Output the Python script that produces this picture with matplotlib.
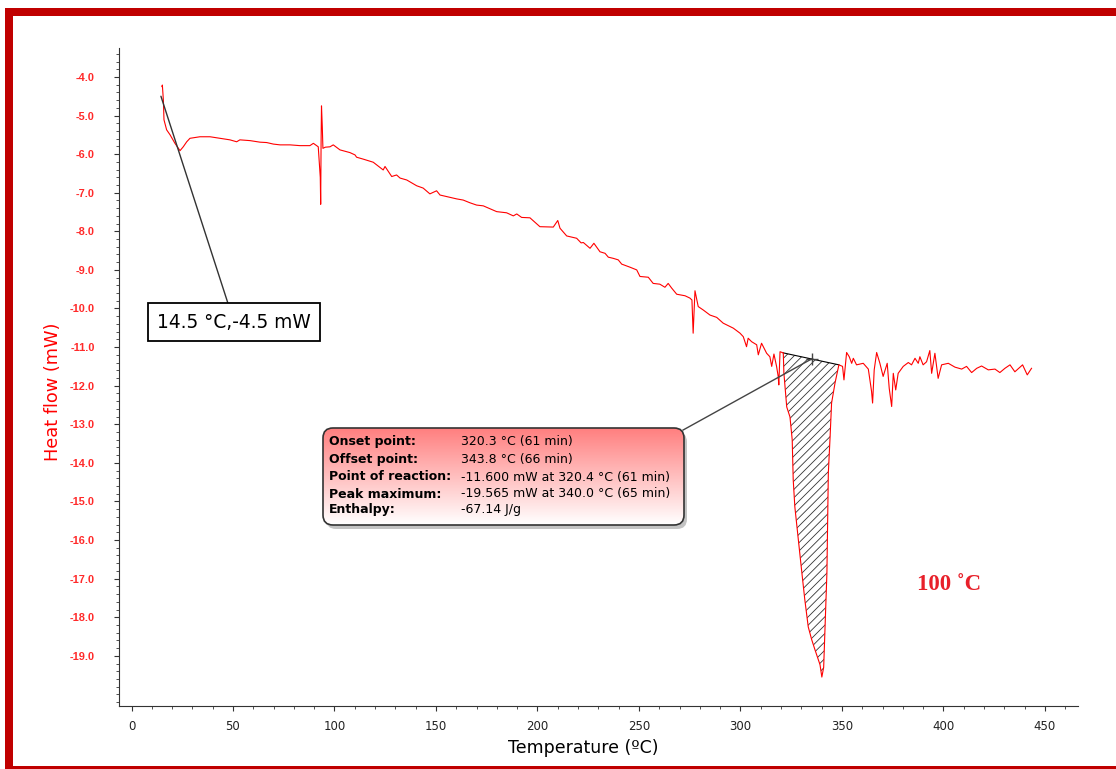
import numpy as np
import matplotlib
matplotlib.use("Agg")
import matplotlib.pyplot as plt
from matplotlib.patches import FancyBboxPatch, Rectangle

# DSC curve (temperature in C, heat flow in mW)
t_start = [15.0, 15.2, 15.7, 16.0, 17.3, 19.0, 21.4, 23.9, 25.5, 27.2, 28.8, 33.7, 38.7, 43.6,
           48.5, 51.8, 53.4, 58.4, 63.3, 66.6, 69.9, 73.2, 78.1, 83.0, 87.9, 89.6, 92.0,
           93.0, 93.2, 93.4, 93.6, 94.0, 94.3, 95.5]
hf_start = [-4.25, -4.21, -4.6, -5.11, -5.37, -5.5, -5.72, -5.91, -5.81, -5.68, -5.59, -5.55,
            -5.55, -5.59, -5.63, -5.68, -5.63, -5.65, -5.69, -5.7, -5.74, -5.76, -5.76, -5.78,
            -5.78, -5.72, -5.81, -6.6, -7.3, -5.7, -4.75, -5.3, -5.85, -5.82]

t_slope = [97.8, 99.4, 102.7, 107.6, 110.1, 110.9, 114.2, 119.1, 120.8, 124.0, 124.9, 128.2,
           130.6, 132.3, 135.6, 140.5, 143.7, 147.0, 150.3, 152.0, 155.3, 160.2, 163.4, 166.7,
           170.0, 173.3, 179.9, 184.8, 188.1, 189.8, 192.2, 196.3, 201.2, 207.8, 210.0, 211.1,
           214.4, 219.3, 221.5, 222.6, 225.9, 227.8, 230.8, 233.3, 234.9, 237.3, 239.8, 241.5,
           245.6, 248.9, 250.5, 254.6, 257.0, 260.3, 262.8, 264.4, 266.1, 268.6, 272.7, 275.1,
           276.1, 276.7, 277.6, 279.2, 281.7, 285.0, 288.3, 291.5, 296.5, 299.8, 301.4, 303.0,
           303.8, 305.5, 308.0, 308.8, 310.4, 312.9, 314.5, 315.4, 316.5, 317.8, 318.6, 318.9,
           319.5]
hf_slope = [-5.81, -5.76, -5.89, -5.96, -6.02, -6.08, -6.13, -6.21, -6.28, -6.41, -6.32, -6.58,
            -6.54, -6.62, -6.67, -6.82, -6.88, -7.03, -6.95, -7.06, -7.1, -7.16, -7.19, -7.26,
            -7.32, -7.34, -7.49, -7.52, -7.6, -7.55, -7.64, -7.65, -7.88, -7.89, -7.72, -7.92,
            -8.12, -8.18, -8.3, -8.29, -8.44, -8.31, -8.53, -8.57, -8.67, -8.7, -8.74, -8.85,
            -8.93, -9.0, -9.17, -9.19, -9.35, -9.37, -9.45, -9.35, -9.47, -9.63, -9.67, -9.73,
            -9.78, -10.64, -9.54, -9.95, -10.04, -10.17, -10.23, -10.38, -10.51, -10.64, -10.73,
            -10.99, -10.77, -10.86, -10.94, -11.2, -10.9, -11.16, -11.25, -11.5, -11.18, -11.5,
            -11.76, -11.98, -11.12]

# endothermic peak, from onset to offset
t_peak = [321.1, 321.4, 322.8, 324.4, 325.5, 326.0, 326.8, 328.5, 330.1, 331.7, 333.4, 335.1,
          336.7, 339.2, 340.1, 341.0, 342.6, 343.3, 344.1, 344.9, 346.6, 348.5]
hf_peak = [-11.15, -11.67, -12.55, -12.81, -13.4, -14.44, -15.14, -15.99, -16.77, -17.54, -18.25,
           -18.58, -18.84, -19.23, -19.55, -19.3, -16.85, -14.26, -13.4, -12.45, -11.93, -11.46]

t_end = [350.3, 351.0, 352.3, 353.6, 354.8, 355.6, 357.2, 360.5, 363.0, 364.6, 365.1, 365.9,
         367.1, 368.7, 370.3, 372.3, 373.3, 374.5, 375.3, 376.5, 377.7, 380.2, 382.7, 384.3,
         386.0, 387.6, 388.4, 390.0, 391.7, 393.3, 394.2, 395.8, 397.4, 399.1, 402.4, 405.7,
         409.0, 411.4, 413.9, 416.4, 418.8, 422.1, 425.4, 427.8, 430.3, 432.8, 435.2, 439.0,
         441.3, 443.4]
hf_end = [-11.5, -11.85, -11.14, -11.25, -11.42, -11.29, -11.46, -11.42, -11.57, -12.15, -12.45,
          -11.59, -11.14, -11.42, -11.76, -11.42, -12.07, -12.54, -11.68, -12.11, -11.68, -11.5,
          -11.4, -11.46, -11.29, -11.42, -11.25, -11.46, -11.38, -11.09, -11.68, -11.16, -11.81,
          -11.46, -11.42, -11.52, -11.57, -11.5, -11.66, -11.55, -11.49, -11.59, -11.57, -11.66,
          -11.55, -11.46, -11.64, -11.46, -11.72, -11.55]

temp = t_start + t_slope + t_peak + t_end
heat = hf_start + hf_slope + hf_peak + hf_end

x_ticks = list(range(0, 451, 50))
y_ticks = [-4.0 - i for i in range(16)]

mark_t, mark_hf = 14.5, -4.5
box_rows = [("Onset point:", "320.3 \u00b0C (61 min)"),
            ("Offset point:", "343.8 \u00b0C (66 min)"),
            ("Point of reaction:", "-11.600 mW at 320.4 \u00b0C (61 min)"),
            ("Peak maximum:", "-19.565 mW at 340.0 \u00b0C (65 min)"),
            ("Enthalpy:", "-67.14 J/g")]

plt.rcParams["hatch.linewidth"] = 0.6

W, H = 1116, 769
fig = plt.figure(figsize=(W / 100, H / 100), dpi=100)
ax = fig.add_axes([119 / W, 1 - 706 / H, (1078 - 119) / W, (706 - 48) / H])

ax.plot(temp, heat, color="#ff0000", lw=0.8, zorder=3)
ax.fill(t_peak, hf_peak, fill=False, hatch="////", edgecolor="#333333", lw=0, zorder=2)
ax.plot([t_peak[0], t_peak[-1]], [hf_peak[0], hf_peak[-1]], color="black", lw=0.8, zorder=2)

ax.set_xlim(-6.16, 466.3)
ax.set_ylim(-20.3, -3.25)
ax.set_xticks(x_ticks)
ax.set_xticks(range(0, 461, 10), minor=True)
ax.set_yticks(y_ticks)
ax.set_yticks(np.arange(-20.2, -3.3, 0.2), minor=True)
ax.set_yticklabels(["%.1f" % v for v in y_ticks])
for s in ["top", "right"]:
    ax.spines[s].set_visible(False)
for s in ["left", "bottom"]:
    ax.spines[s].set_color("#333333")
ax.tick_params(axis="both", which="major", length=3.5, color="#333333")
ax.tick_params(axis="both", which="minor", length=2, color="#333333")
ax.tick_params(axis="y", labelcolor="#ff2a2a", pad=14)
ax.tick_params(axis="x", labelcolor="#222222", labelsize=8.5, pad=6.5)
for lab in ax.get_yticklabels():
    lab.set_fontweight("bold")
    lab.set_family("Liberation Sans")
    lab.set_fontsize(7.9)
ax.set_xlabel("Temperature (\u00baC)", fontsize=12.5)
ax.xaxis.set_label_coords(0.484, -0.05)
ax.set_ylabel("Heat flow (mW)", fontsize=12.8, color="#ff0000")
ax.yaxis.set_label_coords(-0.0594, 0.477)

# first annotation
ax.annotate("14.5 \u00b0C,-4.5 mW", xy=(mark_t, mark_hf), xytext=(50.5, -10.35),
            fontsize=13.4, ha="center", va="center",
            bbox=dict(boxstyle="square,pad=0.5", fc="white", ec="black", lw=1.3),
            arrowprops=dict(arrowstyle="-", color="#333333", lw=1.0, shrinkA=0, shrinkB=0),
            zorder=5)

# leader of the peak result box
ax.plot([271.7, 335.3], [-13.15, -11.3], color="#444444", lw=1.0, zorder=4)
ax.plot([335.3], [-11.3], marker="+", color="#444444", ms=8, zorder=4)

ax.text(403, -17.16, "100 \u02daC", fontsize=16.5, fontweight="bold", color="#e8202a",
        family="Liberation Serif", ha="center", va="center")

# overlay in pixel coordinates for frame and result box
ov = fig.add_axes([0, 0, 1, 1], zorder=10)
ov.axis("off")
ov.patch.set_alpha(0)

frame = "#c00000"
ov.add_patch(Rectangle((5, 8), W, 8, color=frame, lw=0))
ov.add_patch(Rectangle((5, 8), 8, H, color=frame, lw=0))
ov.add_patch(Rectangle((5, 766), W, 4, color=frame, lw=0))

bx0, by0, bw, bh = 323, 428, 361, 97
shadow = FancyBboxPatch((bx0 + 3, by0 + 4), bw, bh, boxstyle="round,pad=0,rounding_size=10",
                        fc="#888888", ec="none", alpha=0.5)
ov.add_patch(shadow)
box = FancyBboxPatch((bx0, by0), bw, bh, boxstyle="round,pad=0,rounding_size=10",
                     fc="none", ec="#333333", lw=1.2, zorder=3)
grad = np.zeros((64, 1, 4))
top_col = np.array([1.0, 0.5, 0.5, 1.0])
bot_col = np.array([1.0, 1.0, 1.0, 1.0])
for i in range(64):
    f = i / 63
    grad[i, 0] = top_col * (1 - f) + bot_col * f
im = ov.imshow(grad, extent=(bx0, bx0 + bw, by0 + bh, by0), aspect="auto", zorder=2,
               interpolation="bilinear")
ov.add_patch(box)
im.set_clip_path(box)
ov.set_xlim(0, W)
ov.set_ylim(H, 0)

row_y = [442, 459, 477, 494, 510]
for (lab, val), yy in zip(box_rows, row_y):
    ov.text(329, yy, lab, fontsize=9, fontweight="bold", family="DejaVu Sans",
            va="center", ha="left", zorder=4)
    ov.text(461, yy, val, fontsize=9, family="DejaVu Sans", va="center", ha="left", zorder=4)

fig.savefig("out.png", dpi=100)
